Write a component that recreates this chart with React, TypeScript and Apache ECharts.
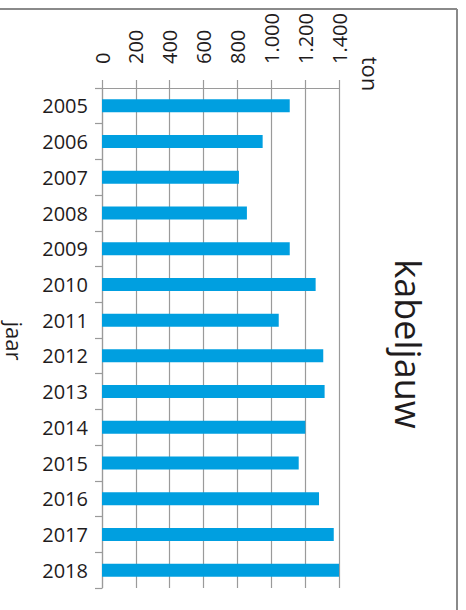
import React, { useEffect, useRef } from "react";
import * as echarts from "echarts";

const years = ["2005","2006","2007","2008","2009","2010","2011","2012","2013","2014","2015","2016","2017","2018"];
const tonnes = [1109, 949, 809, 856, 1109, 1262, 1044, 1307, 1315, 1201, 1162, 1282, 1369, 1400];
const tickMin = 0;
const tickMax = 1400;
const tickStep = 200;
const title = "kabeljauw";
const valueAxisName = "ton";
const categoryAxisName = "jaar";

const FONT = "'Open Sans', sans-serif";
const TEXT = "#1f1c1d";
const GRID = "#9a9a9a";

function fmt(v: number) {
  return String(v).replace(/\B(?=(\d{3})+(?!\d))/g, ".");
}

export default function App() {
  const ref = useRef<HTMLDivElement>(null);
  useEffect(() => {
    if (!ref.current) return;
    const chart = echarts.init(ref.current, undefined, { renderer: "svg" });
    chart.setOption({
      animation: false,
      backgroundColor: "#ffffff",
      textStyle: { fontFamily: FONT, color: TEXT },
      grid: { left: 102, top: 88, right: 127, bottom: 22, containLabel: false },
      xAxis: {
        type: "value",
        position: "top",
        min: tickMin,
        max: tickMax,
        interval: tickStep,
        axisLine: { show: true, lineStyle: { color: GRID, width: 1.2 } },
        axisTick: { show: true, length: 8, lineStyle: { color: GRID, width: 1.2 } },
        splitLine: { show: true, lineStyle: { color: GRID, width: 1.2 } },
        axisLabel: {
          rotate: -90,
          margin: 24,
          fontSize: 20,
          fontFamily: FONT,
          color: TEXT,
          formatter: (v: number) => fmt(v),
        },
      },
      yAxis: {
        type: "category",
        data: years,
        inverse: true,
        axisLine: { show: true, lineStyle: { color: GRID, width: 1.2 } },
        axisTick: { show: true, length: 7, lineStyle: { color: GRID, width: 1.2 } },
        axisLabel: { margin: 14, fontSize: 20, fontFamily: FONT, color: TEXT },
        splitLine: { show: false },
      },
      series: [
        {
          type: "bar",
          data: tonnes,
          barWidth: 13,
          itemStyle: { color: "#009fe0" },
        },
      ],
      graphic: [
        { type: "line", shape: { x1: 0, y1: 9, x2: 457, y2: 9 }, style: { stroke: "#8a8a8a", lineWidth: 2 } },
        { type: "line", shape: { x1: 457, y1: 9, x2: 457, y2: 610 }, style: { stroke: "#8a8a8a", lineWidth: 2 } },
        {
          type: "text",
          x: 408,
          y: 344,
          rotation: -Math.PI / 2,
          style: { text: title, fontSize: 36, fontFamily: FONT, fill: TEXT, align: "center", verticalAlign: "middle" },
        },
        {
          type: "text",
          x: 371,
          y: 74,
          rotation: -Math.PI / 2,
          style: { text: valueAxisName, fontSize: 22, fontFamily: FONT, fill: TEXT, align: "center", verticalAlign: "middle" },
        },
        {
          type: "text",
          x: 15,
          y: 341,
          rotation: -Math.PI / 2,
          style: { text: categoryAxisName, fontSize: 22, fontFamily: FONT, fill: TEXT, align: "center", verticalAlign: "middle" },
        },
      ],
    });
    return () => chart.dispose();
  }, []);
  return <div ref={ref} style={{ position: "absolute", left: 0, top: 0, width: 466, height: 610 }} />;
}
